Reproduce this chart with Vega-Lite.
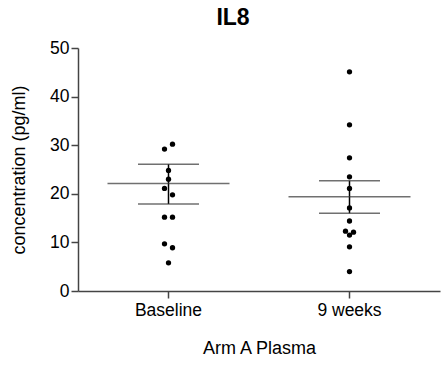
{
  "$schema": "https://vega.github.io/schema/vega-lite/v6.json",
  "width": 362,
  "height": 243,
  "autosize": {"type": "none"},
  "padding": {"left": 78, "top": 48, "right": 1, "bottom": 74},
  "background": "white",
  "config": {
    "view": {"stroke": null},
    "font": "Liberation Sans"
  },
  "title": {
    "text": "IL8",
    "fontSize": 23,
    "fontWeight": "bold",
    "font": "Liberation Sans",
    "color": "#000",
    "anchor": "middle",
    "dx": -26,
    "offset": 9
  },
  "datasets": {
    "points": [
      {"group": "Baseline", "lane": "R", "value": 30.2},
      {"group": "Baseline", "lane": "L", "value": 29.2},
      {"group": "Baseline", "lane": "C", "value": 24.8},
      {"group": "Baseline", "lane": "C", "value": 23.0},
      {"group": "Baseline", "lane": "L", "value": 21.1},
      {"group": "Baseline", "lane": "R", "value": 19.8},
      {"group": "Baseline", "lane": "L", "value": 15.2},
      {"group": "Baseline", "lane": "R", "value": 15.2},
      {"group": "Baseline", "lane": "L", "value": 9.7},
      {"group": "Baseline", "lane": "R", "value": 8.9},
      {"group": "Baseline", "lane": "C", "value": 5.8},
      {"group": "9 weeks", "lane": "C", "value": 45.1},
      {"group": "9 weeks", "lane": "C", "value": 34.2},
      {"group": "9 weeks", "lane": "C", "value": 27.4},
      {"group": "9 weeks", "lane": "C", "value": 23.5},
      {"group": "9 weeks", "lane": "C", "value": 21.1},
      {"group": "9 weeks", "lane": "C", "value": 17.1},
      {"group": "9 weeks", "lane": "C", "value": 14.4},
      {"group": "9 weeks", "lane": "L", "value": 12.3},
      {"group": "9 weeks", "lane": "R", "value": 12.1},
      {"group": "9 weeks", "lane": "C", "value": 11.5},
      {"group": "9 weeks", "lane": "C", "value": 9.1},
      {"group": "9 weeks", "lane": "C", "value": 4.0}
    ],
    "stats": [
      {"group": "Baseline", "mean": 22.1, "lower": 17.9, "upper": 26.1},
      {"group": "9 weeks", "mean": 19.4, "lower": 16.0, "upper": 22.7}
    ]
  },
  "encoding": {
    "x": {
      "field": "group",
      "type": "nominal",
      "sort": ["Baseline", "9 weeks"],
      "scale": {"paddingInner": 0, "paddingOuter": 0},
      "axis": {
        "title": "Arm A Plasma",
        "labelAngle": 0,
        "labelFontSize": 17.5,
        "labelColor": "#000",
        "labelPadding": 3,
        "titleFontSize": 18,
        "titleFontWeight": "normal",
        "titleColor": "#000",
        "titlePadding": 21,
        "domainColor": "#444",
        "domainWidth": 1.5,
        "tickColor": "#444",
        "tickWidth": 1.5,
        "tickSize": 7,
        "grid": false
      }
    }
  },
  "layer": [
    {
      "data": {"name": "stats"},
      "mark": {"type": "rule", "color": "#000", "strokeWidth": 1.5},
      "encoding": {
        "y": {
          "field": "lower",
          "type": "quantitative",
          "scale": {"domain": [0, 50]},
          "axis": {
            "title": "concentration (pg/ml)",
            "values": [0, 10, 20, 30, 40, 50],
            "labelFontSize": 17.5,
            "labelColor": "#000",
            "labelPadding": 2,
            "titleFontSize": 18,
            "titleFontWeight": "normal",
            "titleColor": "#000",
            "titlePadding": 21,
            "domainColor": "#444",
            "domainWidth": 1.5,
            "tickColor": "#444",
            "tickWidth": 1.5,
            "tickSize": 7,
            "grid": false
          }
        },
        "y2": {"field": "upper"}
      }
    },
    {
      "data": {"name": "stats"},
      "mark": {"type": "tick", "color": "#333", "size": 122, "thickness": 1.5, "orient": "horizontal"},
      "encoding": {"y": {"field": "mean", "type": "quantitative"}}
    },
    {
      "data": {"name": "stats"},
      "mark": {"type": "tick", "color": "#333", "size": 61, "thickness": 1.5, "orient": "horizontal"},
      "encoding": {"y": {"field": "upper", "type": "quantitative"}}
    },
    {
      "data": {"name": "stats"},
      "mark": {"type": "tick", "color": "#333", "size": 61, "thickness": 1.5, "orient": "horizontal"},
      "encoding": {"y": {"field": "lower", "type": "quantitative"}}
    },
    {
      "data": {"name": "points"},
      "mark": {"type": "point", "filled": true, "color": "#000", "opacity": 1, "size": 28},
      "encoding": {
        "y": {"field": "value", "type": "quantitative"},
        "xOffset": {
          "field": "lane",
          "type": "nominal",
          "scale": {"type": "point", "domain": ["L", "C", "R"], "range": [86.5, 94.5], "padding": 0}
        }
      }
    }
  ]
}
